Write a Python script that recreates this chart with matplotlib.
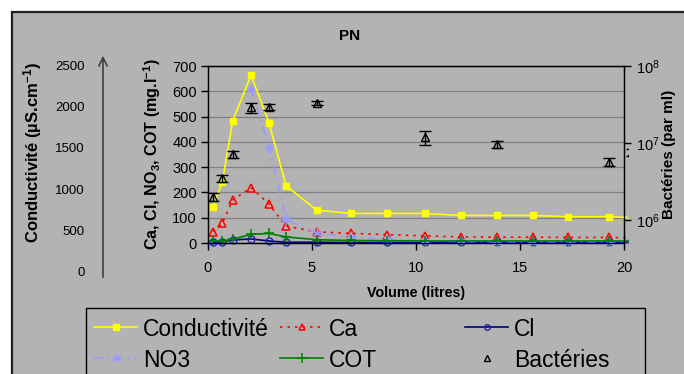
import numpy as np
import matplotlib
matplotlib.use("Agg")
import matplotlib.pyplot as plt
from matplotlib.lines import Line2D
from matplotlib.patches import Rectangle, FancyArrowPatch
from matplotlib.transforms import Bbox, TransformedBbox
from matplotlib.ticker import FixedLocator, NullLocator

plt.rcParams['font.family'] = ['Liberation Sans', 'DejaVu Sans']
plt.rcParams['mathtext.fontset'] = 'custom'
plt.rcParams['mathtext.rm'] = 'Liberation Sans'
plt.rcParams['mathtext.bf'] = 'Liberation Sans:bold'
plt.rcParams['mathtext.default'] = 'regular'

# ---- data ----
volume = [0.25, 0.69, 1.19, 2.07, 2.93, 3.75, 5.22, 6.89, 8.62, 10.43,
          12.16, 13.89, 15.63, 17.29, 19.28, 20.4]
conductivite = [143, 242, 484, 664, 476, 227, 130, 117, 117, 117,
                109, 109, 109, 104, 104, 100]
ca = [45, 78, 170, 219, 154, 67, 44, 38, 33, 28, 24, 23, 23, 22, 22, 21]
cl = [2, 5, 12, 16, 8, 3, 3, 2, 2, 2, 2, 2, 2, 2, 2, 2]
no3 = [np.nan, np.nan, np.nan, 611, 381, 94, 40, 22, 15, 8, 6, 5, 5, 5, 5, 5]
cot = [7, 8, 15, 34, 38, 24, 13, 10, 9, 8, 8, 8, 8, 8, 8, 8]

bact_volume = [0.25, 0.69, 1.19, 2.07, 2.93, 5.22, 10.43, 13.89, 19.28, 20.4]
bacteries = [2.0e6, 3.5e6, 7.1e6, 2.9e7, 2.95e7, 3.3e7, 1.18e7, 9.6e6, 5.7e6, 7.6e6]
bact_err = [0.23e6, 0.35e6, 0.8e6, 4.3e6, 3.0e6, 2.3e6, 2.5e6, 0.95e6, 0.7e6, 0.8e6]

cond_scale_ticks = [0, 500, 1000, 1500, 2000, 2500]
left_ticks = [0, 100, 200, 300, 400, 500, 600, 700]
x_ticks = [0, 5, 10, 15, 20]
legend_labels = ['Conductivité', 'Ca', 'Cl', 'NO3', 'COT', 'Bactéries']

W, H = 684, 374
BG = '#b3b3b3'
fig = plt.figure(figsize=(W / 100, H / 100), dpi=100)
fig.patch.set_facecolor('white')


def fx(px):
    return px / W


def fy(py):
    return 1 - py / H


# gray frame
fig.add_artist(Rectangle((fx(12), -0.1), 1.2, fy(12) + 0.1, transform=fig.transFigure,
                         facecolor=BG, edgecolor='#202020', linewidth=1.6, zorder=-10))

# main axes
ax = fig.add_axes([fx(208), fy(243), fx(624) - fx(208), fy(66) - fy(243)])
ax.set_facecolor('none')
ax.set_xlim(0, 20)
ax.set_ylim(0, 700)
ax.set_yticks(left_ticks)
ax.set_xticks(x_ticks)
ax.yaxis.grid(True, color='#808080', linewidth=0.9)
ax.set_axisbelow(True)
for s in ax.spines.values():
    s.set_color('black')
    s.set_linewidth(1.0)
ax.tick_params(axis='both', direction='out', length=5, width=1.0, labelsize=10.5, colors='black')
ax.tick_params(axis='x', pad=8)
ax.tick_params(axis='y', pad=3)
ax.set_xlabel('Volume (litres)', fontsize=10.3, fontweight='bold', labelpad=8)
ax.set_ylabel(r'Ca, Cl, NO$_\mathbf{3}$, COT (mg.l$^\mathbf{-1}$)', fontsize=11.6,
              fontweight='bold', labelpad=7)

clip = TransformedBbox(Bbox([[0, -0.02], [1.0096, 1.0]]), ax.transAxes)

styles = {
    'cond': dict(color='#ffff00', lw=1.2, marker='s', ms=4, mfc='#ffff00', mec='#ffff00'),
    'ca': dict(color='#ff0000', lw=1.2, ls=(0, (1.5, 3)), marker='^', ms=6, mfc='none',
               mec='#ff0000', mew=1.1),
    'cl': dict(color='#000080', lw=1.2, marker='o', ms=5, mfc='none', mec='#2222aa', mew=1.0),
    'no3': dict(color='#9999ff', lw=1.2, ls=(0, (5, 3, 1, 3)), marker=(6, 2, 0), ms=7,
                mec='#9999ff', mew=1.0),
    'cot': dict(color='#008000', lw=1.2, marker='+', ms=7, mec='#008000', mew=1.1),
}

lines = []
lines += ax.plot(volume, conductivite, zorder=5, **styles['cond'])
lines += ax.plot(volume, ca, zorder=4, **styles['ca'])
lines += ax.plot(volume, cl, zorder=4, **styles['cl'])
lines += ax.plot(volume, no3, zorder=4, **styles['no3'])
lines += ax.plot(volume, cot, zorder=4, **styles['cot'])
for ln in lines:
    ln.set_clip_box(clip)

# bacteria axis (log)
ax2 = ax.twinx()
ax2.set_yscale('log')
ax2.set_ylim(5e5, 1e8)
ax2.set_xlim(0, 20)
ax2.yaxis.set_major_locator(FixedLocator([1e6, 1e7, 1e8]))
ax2.yaxis.set_minor_locator(NullLocator())
ax2.tick_params(axis='y', direction='out', length=5, width=1.0, labelsize=10.5, pad=4)
for s in ax2.spines.values():
    s.set_color('black')
eb = ax2.errorbar(bact_volume, bacteries, yerr=bact_err, fmt='^', color='black', ms=6,
                  mfc='none', mec='black', mew=1.0, ecolor='black', elinewidth=1.0,
                  capsize=4, capthick=1.0, zorder=6)
for art in [eb[0]] + list(eb[1]) + list(eb[2]):
    art.set_clip_box(clip)
ax2.set_ylabel('Bactéries (par ml)', fontsize=11, fontweight='bold', labelpad=1)

# decorative conductivity scale
axc = fig.add_axes([fx(103), fy(272), 0.001, fy(65) - fy(272)])
axc.set_ylim(0, 2500)
axc.set_yticks(cond_scale_ticks)
axc.set_xticks([])
for s in axc.spines.values():
    s.set_visible(False)
axc.patch.set_visible(False)
axc.tick_params(axis='y', length=0, labelsize=9.5, pad=13)
fig.text(fx(33), fy(153), r'Conductivité (µS.cm$^\mathbf{-1}$)', fontsize=12,
         fontweight='bold', rotation=90, ha='center', va='center')
fig.add_artist(FancyArrowPatch((fx(103), fy(280)), (fx(103), fy(53)),
               transform=fig.transFigure, arrowstyle='->,head_length=6,head_width=3',
               color='#404040', lw=1.2, mutation_scale=1))

fig.text(fx(350), fy(36), 'PN', fontsize=11, fontweight='bold', ha='center', va='center')

# legend drawn manually (Excel-like layout)
fig.add_artist(Rectangle((fx(86), -0.1), fx(645) - fx(86), fy(308) + 0.1,
                         transform=fig.transFigure, facecolor=BG, edgecolor='black',
                         linewidth=1.0, zorder=2))
leg_styles = [
    dict(styles['cond'], ms=4),
    dict(styles['ca'], ms=5),
    dict(styles['cl'], ms=4),
    dict(styles['no3'], ms=6),
    dict(styles['cot'], ms=7),
    dict(color='black', lw=0, marker='^', ms=4, mfc='none', mec='black'),
]
col_x = [94, 280, 465]
row_y = [327, 358]
for i, (lab, st) in enumerate(zip(legend_labels, leg_styles)):
    r, c = divmod(i, 3)
    x0 = col_x[c]
    y0 = row_y[r]
    ln = Line2D([fx(x0), fx(x0 + 43)], [fy(y0), fy(y0)], transform=fig.transFigure,
                zorder=3, **{k: v for k, v in st.items() if k not in ('marker', 'ms', 'mfc', 'mec', 'mew')})
    fig.add_artist(ln)
    mk = Line2D([fx(x0 + 21.5)], [fy(y0)], transform=fig.transFigure, lw=0, zorder=4,
                marker=st['marker'], ms=st['ms'], mfc=st.get('mfc', st.get('color')),
                mec=st.get('mec', st.get('color')), mew=st.get('mew', 1.0))
    fig.add_artist(mk)
    fig.text(fx(x0 + 49), fy(y0), lab, fontsize=16.5, ha='left', va='center_baseline', zorder=5)

fig.savefig('out.png', dpi=100, facecolor=fig.get_facecolor())
